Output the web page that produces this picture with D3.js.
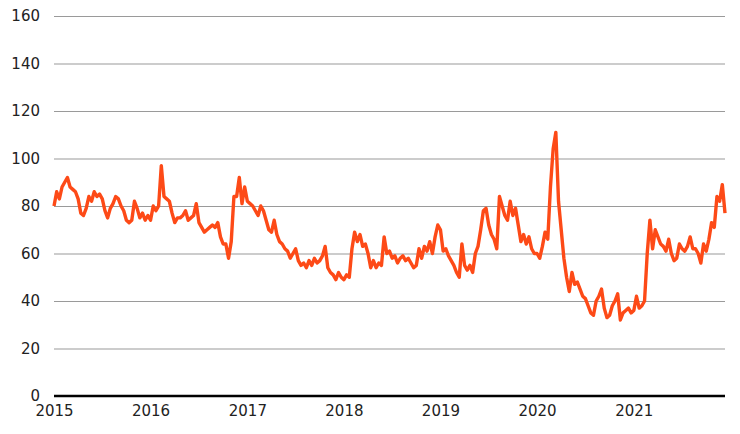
<!DOCTYPE html>
<html>
<head>
<meta charset="utf-8">
<script src="https://cdn.jsdelivr.net/npm/d3@7"></script>
<style>
  html, body { margin: 0; padding: 0; background: #fff; }
  svg { display: block; }
  .tick text { font-family: "DejaVu Sans", Verdana, sans-serif; font-size: 15px; fill: #222; }
</style>
</head>
<body>
<svg id="chart" width="740" height="434"></svg>
<script>
// samples per year, evenly spaced through each year (~10 days apart)
const samplesPerYear = 36;

const values2015 = [80, 86, 83, 88, 90, 92, 88, 87, 86, 83, 77, 76, 79, 84, 82, 86, 84, 85,
  83, 78, 75, 79, 81, 84, 83, 80, 78, 74, 73, 74, 82, 79, 75, 77, 74, 76];
const values2016 = [74, 80, 78, 80, 97, 84, 83, 82, 77, 73, 75, 75, 76, 78, 74, 75, 76, 81,
  73, 71, 69, 70, 71, 72, 71, 73, 67, 64, 64, 58, 65, 84, 84, 92, 81, 88];
const values2017 = [82, 81, 80, 78, 76, 80, 78, 74, 70, 69, 74, 68, 65, 64, 62, 61, 58, 60,
  62, 57, 55, 56, 54, 57, 55, 58, 56, 57, 59, 63, 54, 52, 51, 49, 52, 50];
const values2018 = [49, 51, 50, 62, 69, 65, 68, 63, 64, 60, 54, 57, 54, 56, 55, 67, 60, 61,
  58, 59, 56, 58, 59, 57, 58, 56, 54, 55, 62, 58, 63, 61, 65, 60, 67, 72];
const values2019 = [70, 61, 62, 59, 57, 55, 52, 50, 64, 55, 53, 55, 52, 60, 63, 70, 78, 79,
  72, 68, 66, 62, 84, 80, 76, 74, 82, 76, 79, 72, 65, 68, 64, 67, 62, 60];
const values2020 = [60, 58, 63, 69, 66, 88, 104, 111, 82, 70, 58, 50, 44, 52, 47, 48, 45, 42,
  41, 38, 35, 34, 40, 42, 45, 37, 33, 34, 38, 40, 43, 32, 35, 36, 37, 35];
const values2021 = [36, 42, 37, 38, 40, 60, 74, 62, 70, 67, 64, 63, 61, 66, 60, 57, 58, 64,
  62, 61, 63, 67, 62, 62, 60, 56, 64, 61, 66, 73, 71, 84, 82, 89, 77];

const years = [2015, 2016, 2017, 2018, 2019, 2020, 2021];
const seriesByYear = [values2015, values2016, values2017, values2018, values2019, values2020, values2021];

const yTicks = [0, 20, 40, 60, 80, 100, 120, 140, 160];

const data = [];
years.forEach((yr, i) => {
  const start = new Date(yr, 0, 1);
  const end = new Date(yr + 1, 0, 1);
  const step = (end - start) / samplesPerYear;
  seriesByYear[i].forEach((v, k) => {
    data.push({ date: new Date(+start + k * step), value: v });
  });
});

const svg = d3.select("#chart");
const margin = { left: 54, right: 15, top: 16, bottom: 38 };
const width = 740, height = 434;

const x = d3.scaleTime()
  .domain([data[0].date, data[data.length - 1].date])
  .range([margin.left, width - margin.right]);

const y = d3.scaleLinear()
  .domain([0, 160])
  .range([height - margin.bottom, margin.top]);

// horizontal grid lines + y labels
const yAxis = svg.append("g")
  .attr("transform", `translate(${margin.left},0)`)
  .call(d3.axisLeft(y).tickValues(yTicks).tickSize(-(width - margin.left - margin.right)).tickPadding(14));
yAxis.select(".domain").remove();
yAxis.selectAll(".tick line").attr("stroke", "#9a9a9a").attr("stroke-width", 1.2);
yAxis.selectAll(".tick").filter((d) => d === 0).select("line").remove();

// x axis labels at year starts
const xAxis = svg.append("g")
  .attr("transform", `translate(0,${height - margin.bottom})`)
  .call(d3.axisBottom(x).tickValues(years.map((yr) => new Date(yr, 0, 1))).tickFormat(d3.timeFormat("%Y")).tickSize(0).tickPadding(9));
xAxis.select(".domain").remove();

// the line
const line = d3.line()
  .x((d) => x(d.date))
  .y((d) => y(d.value));

svg.append("path")
  .datum(data)
  .attr("fill", "none")
  .attr("stroke", "#fd4a17")
  .attr("stroke-width", 3.4)
  .attr("stroke-linejoin", "round")
  .attr("d", line);

// zero baseline
svg.append("line")
  .attr("x1", margin.left)
  .attr("x2", width - margin.right)
  .attr("y1", y(0))
  .attr("y2", y(0))
  .attr("stroke", "#000")
  .attr("stroke-width", 2.5);
</script>
</body>
</html>
